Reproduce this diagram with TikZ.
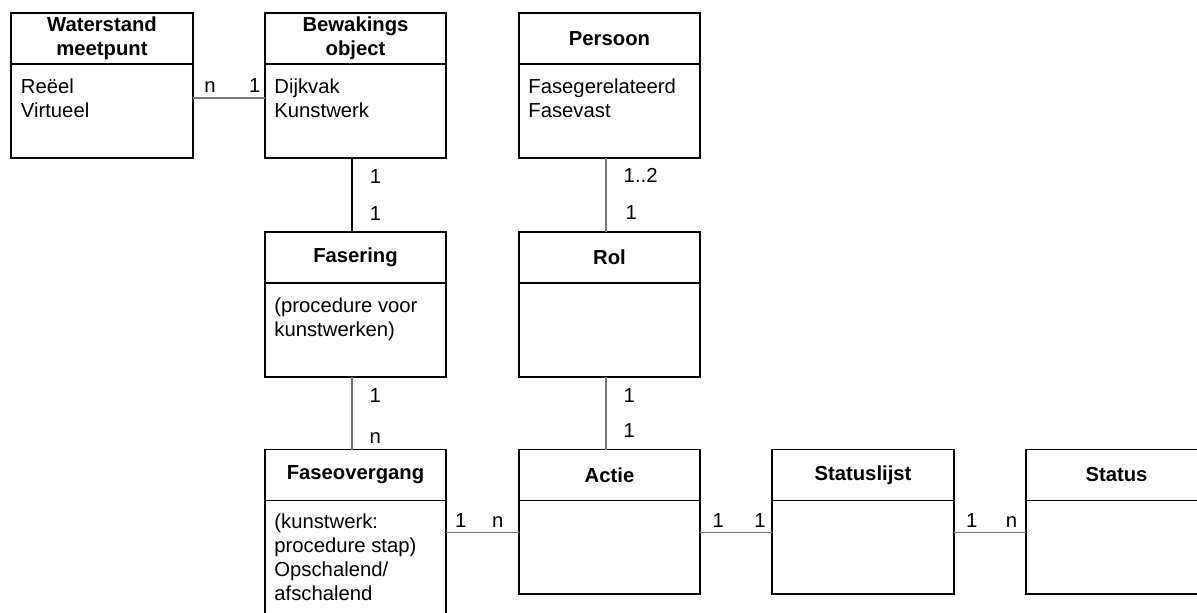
\documentclass[tikz,border=0pt]{standalone}
\usepackage{fontspec}
\setmainfont{Liberation Sans}
\usetikzlibrary{positioning}
\definecolor{lijngrijs}{RGB}{120,120,120}
\newcommand{\diagfont}{\fontsize{15.2}{18}\selectfont}

\begin{document}
\begin{tikzpicture}[x=0.75pt, y=-0.75pt, font=\diagfont,
    kop/.style={draw, line width=1.4pt, outer sep=0pt, inner sep=0pt,
      minimum width=136pt, minimum height=38.25pt, align=center, font=\diagfont\bfseries},
    romp/.style={draw, line width=1.4pt, outer sep=0pt, inner sep=0pt,
      minimum width=136pt, minimum height=70.2pt},
    inhoud/.style={anchor=north west, align=left, inner sep=0pt, xshift=7pt, yshift=-11pt},
    verband/.style={draw=lijngrijs, line width=0.9pt},
    hmult/.style={anchor=base, yshift=3.8pt},
    vmult/.style={anchor=base west, xshift=9.5pt}]
  \clip (0,0) rectangle (1197,612);
  \fill[white] (0,0) rectangle (1197,612);

  % Bovenste rij
  \node[kop] (wm) at (102,38.5) {Waterstand\\meetpunt};
  \node[romp, below=0pt of wm] (wmr) {};
  \node[inhoud] at (wmr.north west) {Reëel\\Virtueel};

  \node[kop] (bo) at (355.5,38.5) {Bewakings\\object};
  \node[romp, below=0pt of bo] (bor) {};
  \node[inhoud] at (bor.north west) {Dijkvak\\Kunstwerk};

  \node[kop] (pe) at (609.5,38.5) {Persoon};
  \node[romp, below=0pt of pe] (per) {};
  \node[inhoud] at (per.north west) {Fasegerelateerd\\Fasevast};

  % Middelste rij
  \node[kop] (fa) at (355.5,257.5) {Fasering};
  \node[romp, below=0pt of fa] (far) {};
  \node[inhoud] at (far.north west) {(procedure voor\\kunstwerken)};

  \node[kop] (ro) at (609.5,257.5) {Rol};
  \node[romp, below=0pt of ro] (ror) {};

  % Onderste rij
  \node[kop] (fo) at (355.5,475) {Faseovergang};
  \node[romp, below=0pt of fo, minimum height=100pt] (for) {};
  \node[inhoud, yshift=1pt] at (for.north west) {(kunstwerk:\\procedure stap)\\Opschalend/\\afschalend};

  \node[kop] (ac) at (609.5,475) {Actie};
  \node[romp, below=0pt of ac] (acr) {};

  \node[kop] (sl) at (863,475) {Statuslijst};
  \node[romp, below=0pt of sl] (slr) {};

  \node[kop] (st) at (1116.5,475) {Status};
  \node[romp, below=0pt of st] (str) {};

  % Verbanden
  \draw[verband] ([yshift=-25.5pt]wmr.north east) -- ([yshift=-25.5pt]bor.north west)
    node[hmult, pos=0.24] {n} node[hmult, pos=0.86] {1};
  \draw[black, line width=1.2pt] ([xshift=-2.6pt]bor.south) -- ([xshift=-2.6pt]fa.north)
    node[vmult, pos=0.35] {1} node[vmult, pos=0.84] {1};
  \draw[verband] ([xshift=-2.6pt]per.south) -- ([xshift=-2.6pt]ro.north)
    node[vmult, pos=0.33] {1..2} node[vmult, xshift=1.5pt, pos=0.83] {1};
  \draw[verband] ([xshift=-2.6pt]far.south) -- ([xshift=-2.6pt]fo.north)
    node[vmult, pos=0.35] {1} node[vmult, pos=0.92] {n};
  \draw[verband] ([xshift=-2.6pt]ror.south) -- ([xshift=-2.6pt]ac.north)
    node[vmult, pos=0.35] {1} node[vmult, pos=0.83] {1};
  \draw[verband] ([yshift=-24pt]for.north east) -- ([yshift=-24pt]acr.north west)
    node[hmult, pos=0.2] {1} node[hmult, pos=0.71] {n};
  \draw[verband] ([yshift=-24pt]acr.north east) -- ([yshift=-24pt]slr.north west)
    node[hmult, pos=0.25] {1} node[hmult, pos=0.83] {1};
  \draw[verband] ([yshift=-24pt]slr.north east) -- ([yshift=-24pt]str.north west)
    node[hmult, pos=0.25] {1} node[hmult, pos=0.8] {n};
\end{tikzpicture}
\end{document}
